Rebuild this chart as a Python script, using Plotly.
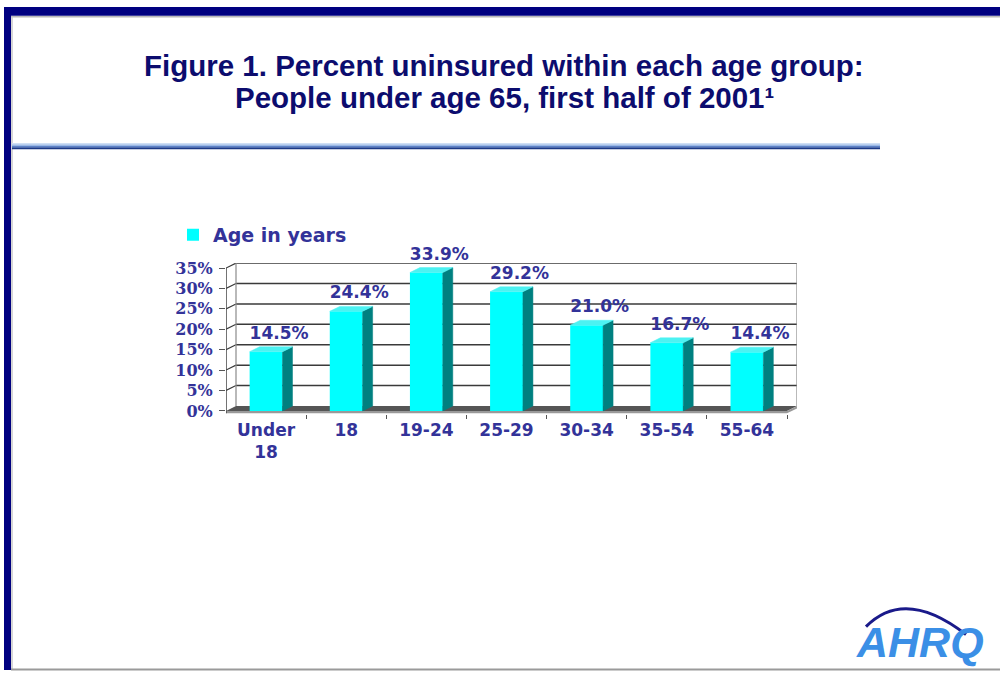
import plotly.graph_objects as go

# ---------------- data ----------------
categories = ["Under<br>18", "18", "19-24", "25-29", "30-34", "35-54", "55-64"]
values = [14.5, 24.4, 33.9, 29.2, 21.0, 16.7, 14.4]
labels = ["14.5%", "24.4%", "33.9%", "29.2%", "21.0%", "16.7%", "14.4%"]
y_ticks = [0, 5, 10, 15, 20, 25, 30, 35]
y_ticktext = ["0%", "5%", "10%", "15%", "20%", "25%", "30%", "35%"]
series_name = "Age in years"
title_line1 = "Figure 1. Percent uninsured within each age group:"
title_line2 = "People under age 65, first half of 2001¹"

# ---------------- layout geometry (pixels) ----------------
W, H = 1000, 677
def fx(px): return px / W
def fy(py): return 1 - py / H

x_left_px, x_right_px = 226, 797
y0_px, y35_px = 413, 268
ppu_y = (y0_px - y35_px) / 35.0
depth_px_x, depth_px_y = 10, 5
n = len(categories)
x_min = -0.5
ppu_x = (x_right_px - x_left_px) / (n + depth_px_x / 80.0)
dx = depth_px_x / ppu_x
x_max = n - 0.5 + dx
dy = depth_px_y / ppu_y
y_min = -0.8
y_max = 35 + dy
bottom_px = y0_px - y_min * ppu_y
top_px = y35_px - depth_px_y

idx = list(range(n))
hw = 0.205

navy = "#0c0c6e"
label_blue = "#333399"
cyan = "#00FFFF"
teal = "#008080"
top_cyan = "#4CF2F2"

fig = go.Figure()

# front faces
fig.add_trace(go.Bar(x=idx, y=values, width=2 * hw, name=series_name,
                     marker=dict(color=cyan, line=dict(width=0)),
                     showlegend=True, hoverinfo="skip"))

# side faces
sx, sy = [], []
for i, v in zip(idx, values):
    sx += [i + hw, i + hw + dx, i + hw + dx, i + hw, i + hw, None]
    sy += [0, dy, v + dy, v, 0, None]
fig.add_trace(go.Scatter(x=sx, y=sy, fill="toself", fillcolor=teal, mode="lines",
                         line=dict(width=0.5, color=teal), showlegend=False, hoverinfo="skip"))
# top faces
tx, ty = [], []
for i, v in zip(idx, values):
    tx += [i - hw, i - hw + dx, i + hw + dx, i + hw, i - hw, None]
    ty += [v, v + dy, v + dy, v, v, None]
fig.add_trace(go.Scatter(x=tx, y=ty, fill="toself", fillcolor=top_cyan, mode="lines",
                         line=dict(width=0.5, color=top_cyan), showlegend=False, hoverinfo="skip"))

# data labels
fig.add_trace(go.Scatter(x=[i + dx * 1.3 for i in idx], y=[v + dy + 0.9 for v in values],
                         text=labels, mode="text", textposition="top center",
                         textfont=dict(family="DejaVu Sans", size=17, color=label_blue, weight="bold"),
                         cliponaxis=False, showlegend=False, hoverinfo="skip"))

shapes = []
grid_col = "#3a3a3a"
# floor (top parallelogram and front strip)
shapes.append(dict(type="path", xref="x", yref="y", layer="below",
                   path=f"M{x_min},0 L{n-0.5},0 L{n-0.5+dx},{dy} L{x_min+dx},{dy} Z",
                   fillcolor="#555555", line=dict(width=0)))
shapes.append(dict(type="path", xref="x", yref="y", layer="below",
                   path=f"M{x_min},{y_min*0.75} L{n-0.5},{y_min*0.75} L{n-0.5+dx},{dy+y_min*0.75} L{n-0.5+dx},{dy} L{n-0.5},0 L{x_min},0 Z",
                   fillcolor="#9a9a9a", line=dict(width=0)))
# back wall gridlines and left wall diagonals
for v in y_ticks[1:]:
    shapes.append(dict(type="line", xref="x", yref="y", layer="below",
                       x0=x_min + dx, x1=x_max, y0=v + dy, y1=v + dy,
                       line=dict(color=grid_col, width=1.5)))
    shapes.append(dict(type="line", xref="x", yref="y", layer="below",
                       x0=x_min, x1=x_min + dx, y0=v, y1=v + dy,
                       line=dict(color=grid_col, width=1.2)))
# wall edges
shapes.append(dict(type="line", xref="x", yref="y", layer="below",
                   x0=x_min + dx, x1=x_min + dx, y0=dy, y1=35 + dy, line=dict(color="#8a8a8a", width=1.2)))
shapes.append(dict(type="line", xref="x", yref="y", layer="below",
                   x0=x_max, x1=x_max, y0=dy, y1=35 + dy, line=dict(color="#8a8a8a", width=1.2)))
# front y axis line
shapes.append(dict(type="line", xref="x", yref="y", layer="above",
                   x0=x_min, x1=x_min, y0=y_min * 0.75, y1=35, line=dict(color="#444444", width=1.5)))

# slide frame
shapes.append(dict(type="rect", xref="paper", yref="paper", x0=fx(4), x1=1, y0=fy(12), y1=fy(3),
                   fillcolor="#000080", line=dict(width=0), layer="above"))
shapes.append(dict(type="rect", xref="paper", yref="paper", x0=fx(4), x1=fx(11), y0=fy(676), y1=fy(3),
                   fillcolor="#000080", line=dict(width=0), layer="above"))
shapes.append(dict(type="line", xref="paper", yref="paper", x0=fx(11), x1=1, y0=fy(13), y1=fy(13),
                   line=dict(color="#b8b8b8", width=1.5)))
shapes.append(dict(type="line", xref="paper", yref="paper", x0=fx(12), x1=fx(12), y0=fy(675), y1=fy(13),
                   line=dict(color="#c8c8c8", width=1.5)))
shapes.append(dict(type="line", xref="paper", yref="paper", x0=fx(11), x1=1, y0=fy(675.5), y1=fy(675.5),
                   line=dict(color="#9a9a9a", width=2)))
# title rule (gradient)
for py, col in [(142, "#cfdff5"), (143.5, "#9ab8e6"), (145, "#5e82c6"), (146.5, "#1c3a87")]:
    shapes.append(dict(type="line", xref="paper", yref="paper", x0=fx(12), x1=fx(880), y0=fy(py), y1=fy(py),
                       line=dict(color=col, width=1.6)))
# logo arc
shapes.append(dict(type="path", xref="paper", yref="paper",
                   path=f"M{fx(866)},{fy(632)} Q{fx(905)},{fy(592)} {fx(966)},{fy(640)}",
                   line=dict(color="#1a1a8a", width=3)))

title_font = dict(family="Liberation Sans", size=29.5, color=navy, weight="bold")
fig.update_layout(
    width=W, height=H,
    margin=dict(l=0, r=0, t=0, b=0),
    paper_bgcolor="white", plot_bgcolor="rgba(0,0,0,0)",
    shapes=shapes,
    xaxis=dict(domain=[fx(x_left_px), fx(x_right_px)], range=[x_min, x_max],
               tickmode="array", tickvals=idx, ticktext=categories,
               showgrid=False, zeroline=False, showline=False, ticks="",
               ticklabelstandoff=4,
               tickfont=dict(family="DejaVu Sans", size=17, color=label_blue, weight="bold"),
               minor=dict(tickmode="array", tickvals=[k - 0.5 for k in range(1, n + 1)],
                          ticks="outside", ticklen=4, tickcolor="#555555", tickwidth=1.2),
               fixedrange=True),
    yaxis=dict(domain=[fy(bottom_px), fy(top_px)], range=[y_min, y_max],
               tickmode="array", tickvals=y_ticks, ticktext=y_ticktext,
               showgrid=False, zeroline=False, showline=False,
               ticks="outside", ticklen=6, tickcolor="#555555", tickwidth=1.2,
               ticklabelstandoff=3,
               tickfont=dict(family="DejaVu Serif", size=16, color=label_blue, weight="bold"),
               fixedrange=True),
    legend=dict(x=fx(173), y=fy(215), xanchor="left", yanchor="top",
                font=dict(family="DejaVu Sans", size=19, color=label_blue, weight="bold"),
                bgcolor="rgba(0,0,0,0)", itemclick=False),
    annotations=[
        dict(text=title_line1, xref="paper", yref="paper", x=0.504, y=fy(62),
             xanchor="center", yanchor="middle", showarrow=False, font=title_font),
        dict(text=title_line2, xref="paper", yref="paper", x=0.504, y=fy(95),
             xanchor="center", yanchor="middle", showarrow=False, font=title_font),
        dict(text="<i>AHRQ</i>", xref="paper", yref="paper", x=fx(920), y=fy(648),
             xanchor="center", yanchor="middle", showarrow=False,
             font=dict(family="Liberation Sans", size=43, color="#3b8fe6", weight="bold")),
    ],
    bargap=0.5,
)

fig.write_html("out.html", config={"displayModeBar": False},
               post_script="document.body.style.margin='0';document.body.style.padding='0';document.body.style.overflow='hidden';")
